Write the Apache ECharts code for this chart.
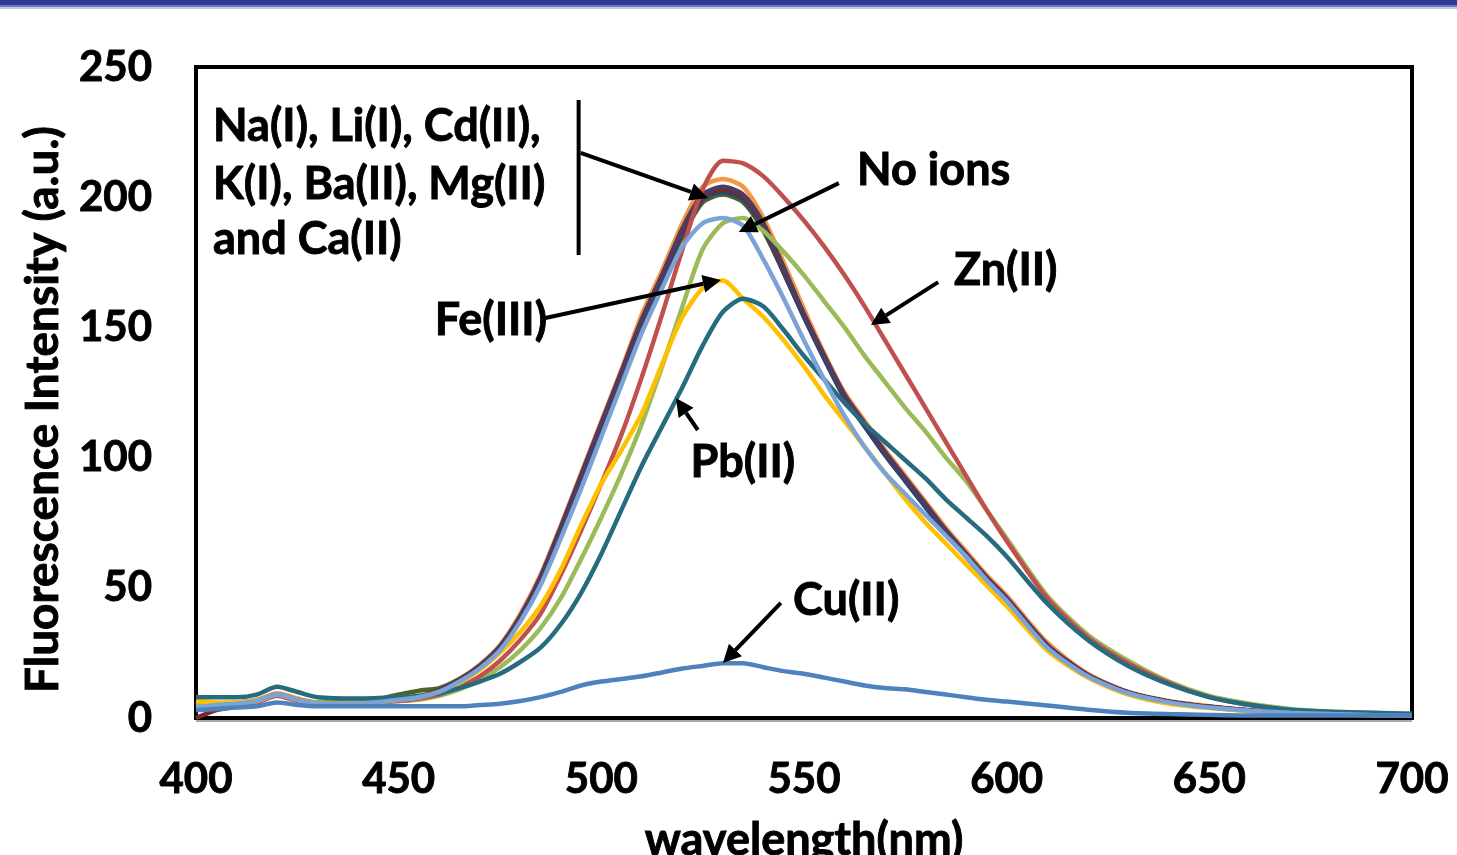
<!DOCTYPE html>
<html>
<head>
<meta charset="utf-8">
<script src="https://cdn.jsdelivr.net/npm/echarts@6/dist/echarts.min.js"></script>
<style>
  html, body { margin: 0; padding: 0; background: #fff; }
  #chart { width: 1457px; height: 855px; }
</style>
</head>
<body>
<div id="chart"></div>
<script>
// Emission wavelengths (nm) shared by every spectrum
const wavelengths = [400,405,410,415,420,425,430,440,450,455,460,465,470,475,480,485,490,495,500,505,510,515,520,525,530,535,540,545,550,555,560,565,570,575,580,585,590,595,600,610,620,630,640,650,660,670,680,690,700];

// Fluorescence intensity (a.u.) per added metal ion
const naI   = [5,5.5,6,7,9.5,7.5,6,6,7.5,8.5,11,15,20.5,28,40,55,74,94,114,134,155,172,190,204,207,204,192,175,157,140,125,114,103,93,83,73,64,55,47,29,17,10,6.5,4.5,3,2,1.5,1.2,1];
const liI   = [3.5,4.5,5.5,6.5,9,7,5.5,5.5,7,8,10.5,14.5,20,27.5,39,54,73,93,113,133,153,170,188,201,204,201,190,173,155,139,124,113,102,92,82,72,63,54,46,28,16.5,9.8,6.3,4.3,2.9,2,1.5,1.2,1];
const cdII  = [4.5,5,5.5,6.5,9,7,5.5,5.5,7,8,10.5,14.5,20,27,38.5,53,72,92,112,132,152,169,186,199,202,199,188,171,154,138,123,112,101,91,81,71,62,53,45,27.5,16.3,9.6,6.2,4.2,2.8,2,1.5,1.2,1];
const kI    = [5,5,5.5,6.5,9,7,6,6,9,10.5,11.5,15,20,27,38,53,72,91,111,131,151,168,185,198,201,198,187,171,154,138,123,112,101,91,81,71,62,53,45,27.5,16.3,9.6,6.2,4.2,2.8,2,1.5,1.2,1];
const baII  = [0,3,4.5,6,9,7,5.5,5.5,7,8,10.5,14.5,20,27,38.5,54,73,93,113,133,153,170,187,200,203,200,189,172,155,139,124,113,102,92,82,72,63,54,46,28,16.5,9.8,6.3,4.3,2.9,2,1.5,1.2,1];
const caII  = [4,4.5,5.5,6.5,9,7,5.5,5.5,7,8,10.5,14.5,20,27.5,39,54,73,93,113,133,153,170,187,200,203,200,189,172,155,139,124,113,102,92,82,72,63,54,46,28,16.5,9.8,6.3,4.3,2.9,2,1.5,1.2,1];
const mgII  = [5,5.5,6,6.5,9,7,6,6,6.5,7,8.5,11,14.5,19.5,26,34.5,46,61,77,94,113,135,158,180,190,192,187,179,170,160,150,139,129,119,110,100,91,80,69,47,32,22,14,8.5,5.5,3.5,2.5,2,1.5];
const noIons= [4,5,5.5,6.5,9,7,5.5,5.5,7,8,10,14,19,26,37,51,69,88,108,128,148,165,181,190,192,189,176,161,145,130,116,104,94,86,78,70,62,53,45,27,16,9.5,6,4,2.8,2,1.5,1.2,1];
const feIII = [6.5,6,6,6.5,9,7,5.5,5.5,7,8,10,13.5,18.5,25,33,43,57,74,90,103,117,136,154,165,168,161,154,145,135,124,114,104,94,84,75,67,59,51,43,26,15.5,9,5.5,3.8,2.6,1.8,1.4,1.1,1];
const pbII  = [8,8,8,9,12,10,8,7.5,8,8.5,9.5,11.5,14,17,21.5,27,36,48,63,80,97,112,127,143,156,161,158,149,139,130,121,113,106,99,92,84,77,70,62,44,30,20,13,8,5,3.2,2.4,2,1.6];
const znII  = [4,4.5,5,6,8.5,6.5,5.5,5.5,6.5,7.5,9,12,16,22,30,40,55,72,90,109,131,155,180,203,214,213,208,200,191,181,170,158,145,132,119,106,93,80,68,46,31,21,13.5,8,5,3,2,1.5,1];
const cuII  = [3,3.5,4,4.5,6,5,4.5,4.5,4.5,4.5,4.5,4.5,5,5.5,6.5,8,10,12.5,14,15,16,17.5,19,20,21,21,19.5,18,17,15.5,14,12.5,11.5,11,10,9,8,7,6.3,4.8,3.2,2,1.5,1.2,1,1,1,1,1];

// Axis tick values
const xTicks = [400, 450, 500, 550, 600, 650, 700];
const yTicks = [0, 50, 100, 150, 200, 250];

// Spectrum list, drawn in this order (last one on top)
const spectra = [
  { name: 'Na(I)',   color: '#F79646', values: naI },
  { name: 'Ca(II)',  color: '#8064A2', values: caII },
  { name: 'K(I)',    color: '#4F6228', values: kI },
  { name: 'Cd(II)',  color: '#1F497D', values: cdII },
  { name: 'Ba(II)',  color: '#772C2A', values: baII },
  { name: 'Li(I)',   color: '#4D3B62', values: liI },
  { name: 'Mg(II)',  color: '#9BBB59', values: mgII },
  { name: 'Zn(II)',  color: '#C0504D', values: znII },
  { name: 'Fe(III)', color: '#FFC000', values: feIII },
  { name: 'Pb(II)',  color: '#276C7E', values: pbII },
  { name: 'No ions', color: '#7BA3D8', values: noIons },
  { name: 'Cu(II)',  color: '#4F81BD', values: cuII }
];

// Callout texts, anchored in data units [nm, intensity]
const groupLines = ['Na(I), Li(I), Cd(II),', 'K(I), Ba(II), Mg(II)', 'and Ca(II)'];
const groupTextAt = [[404.2, 227], [404.2, 205], [404.2, 183.6]];
const callouts = [
  { text: 'No ions', at: [563.1, 210.4], align: 'left',  from: [558.6, 205.4], to: [533.9, 186.6] },
  { text: 'Zn(II)',  at: [587.0, 172.0], align: 'left',  from: [583.1, 167.4], to: [566.5, 150.9] },
  { text: 'Fe(III)', at: [486.6, 152.5], align: 'right', from: [486.2, 153.6], to: [529.5, 168.2] },
  { text: 'Pb(II)',  at: [522.0, 98.3],  align: 'left',  from: [523.8, 110.6], to: [518.4, 122.9] },
  { text: 'Cu(II)',  at: [547.3, 45.3],  align: 'left',  from: [544.3, 44.2],  to: [530.0, 21.1] }
];
const groupBar = { x: 494.4, top: 237.3, bottom: 177.8 };
const groupArrow = { from: [494.9, 217], to: [526.3, 199.7] };

const FONT = 'Lato';
const INK = { color: '#000', fontFamily: FONT, fontWeight: 'bold', textBorderColor: '#000', textBorderWidth: 0.9 };
const chart = echarts.init(document.getElementById('chart'), null, { renderer: 'canvas' });

const pairs = vals => wavelengths.map((w, i) => [w, vals[i]]);

chart.setOption({
  animation: false,
  backgroundColor: '#fff',
  grid: {
    left: 196, right: 45, top: 67, bottom: 137,
    outerBoundsMode: 'none',
    show: true, borderColor: '#000', borderWidth: 4, backgroundColor: 'transparent'
  },
  xAxis: {
    type: 'value', min: xTicks[0], max: xTicks[xTicks.length - 1], interval: 50,
    name: 'wavelength(nm)', nameLocation: 'middle', nameGap: 100,
    nameTextStyle: Object.assign({ fontSize: 45 }, INK),
    axisLine: { show: false }, axisTick: { show: false }, splitLine: { show: false },
    axisLabel: Object.assign({ margin: 40, fontSize: 42 }, INK)
  },
  yAxis: {
    type: 'value', min: yTicks[0], max: yTicks[yTicks.length - 1], interval: 50,
    name: 'Fluorescence Intensity (a.u.)', nameLocation: 'middle', nameGap: 130, nameRotate: 90,
    nameTextStyle: Object.assign({ fontSize: 46, padding: [0, 34, 0, 0] }, INK),
    axisLine: { show: false }, axisTick: { show: false }, splitLine: { show: false },
    axisLabel: Object.assign({ margin: 44, fontSize: 42 }, INK)
  },
  series: spectra.map((s, i) => ({
    type: 'line',
    name: s.name,
    data: pairs(s.values),
    showSymbol: false,
    smooth: 0.25,
    z: 2 + i,
    lineStyle: { color: s.color, width: 4.5 },
    itemStyle: { color: s.color }
  }))
});

// Callouts: labels, arrows and the bracket for the ion group
const toPx = p => chart.convertToPixel({ gridIndex: 0 }, p);
const textFont = `bold 45px ${FONT}`;

function arrow(from, to) {
  const a = toPx(from), b = toPx(to);
  const dx = b[0] - a[0], dy = b[1] - a[1];
  const len = Math.hypot(dx, dy), ux = dx / len, uy = dy / len;
  const head = 18, half = 9;
  const bx = b[0] - ux * head, by = b[1] - uy * head;
  return [
    { type: 'line', z: 100, shape: { x1: a[0], y1: a[1], x2: bx, y2: by }, style: { stroke: '#000', lineWidth: 4 } },
    { type: 'polygon', z: 100, shape: { points: [[b[0], b[1]], [bx - uy * half, by + ux * half], [bx + uy * half, by - ux * half]] }, style: { fill: '#000' } }
  ];
}

function label(text, at, align) {
  const p = toPx(at);
  return { type: 'text', z: 100, style: { text, x: p[0], y: p[1], fill: '#000', stroke: '#000', lineWidth: 0.9, font: textFont, align, verticalAlign: 'middle' } };
}

const elements = [
  // banner along the top edge
  { type: 'rect', shape: { x: 0, y: 0, width: 1457, height: 5 }, style: { fill: '#2B3990' } },
  { type: 'rect', shape: { x: 0, y: 5, width: 1457, height: 2 }, style: { fill: '#6F77B6' } },
  { type: 'rect', shape: { x: 0, y: 7, width: 1457, height: 2 }, style: { fill: '#C3C7E3' } },
  // thin grey rule just under the bottom frame edge
  { type: 'line', z: 50, shape: { x1: 196, y1: 721, x2: 1412, y2: 721 }, style: { stroke: '#8C8C8C', lineWidth: 1.5 } }
];

groupLines.forEach((t, i) => elements.push(label(t, groupTextAt[i], 'left')));
const bt = toPx([groupBar.x, groupBar.top]), bb = toPx([groupBar.x, groupBar.bottom]);
elements.push({ type: 'line', z: 100, shape: { x1: bt[0], y1: bt[1], x2: bb[0], y2: bb[1] }, style: { stroke: '#000', lineWidth: 4 } });
elements.push(...arrow(groupArrow.from, groupArrow.to));

callouts.forEach(c => {
  elements.push(label(c.text, c.at, c.align));
  elements.push(...arrow(c.from, c.to));
});

chart.setOption({ graphic: { elements } });
</script>
</body>
</html>
